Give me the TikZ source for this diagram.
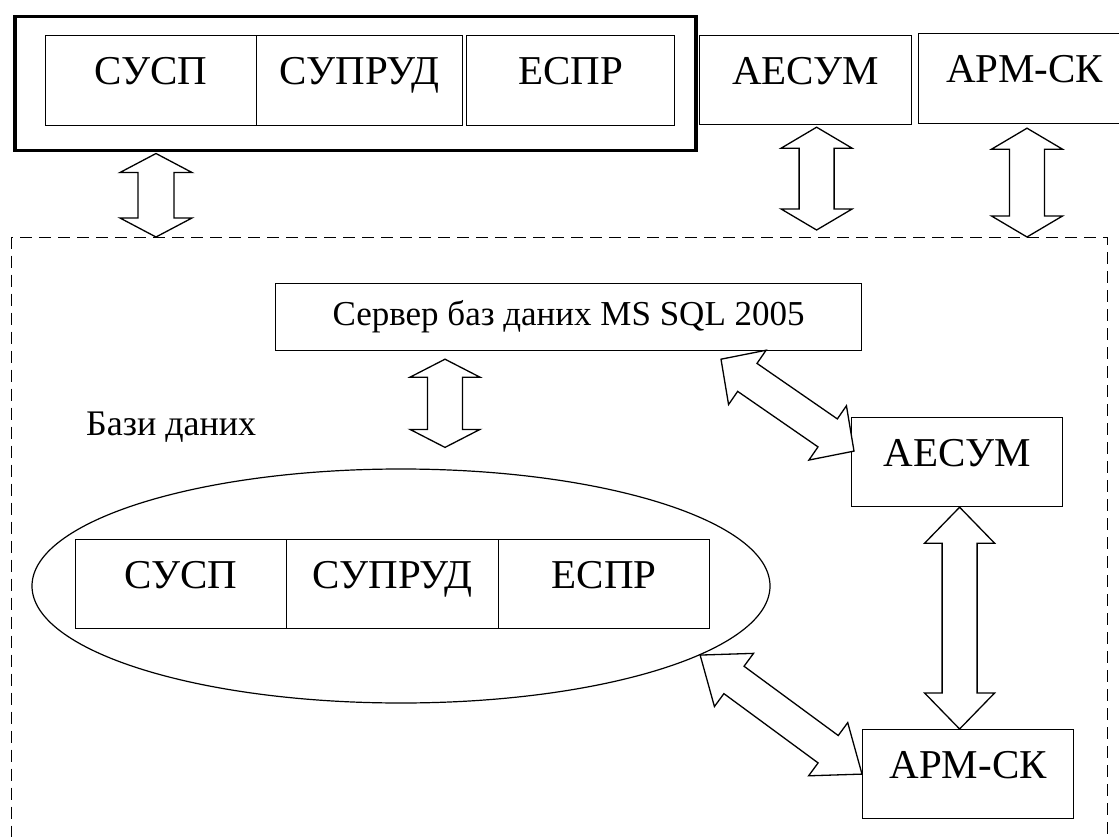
\documentclass[tikz,border=0pt]{standalone}
\usepackage{fontspec}
\setmainfont{Liberation Serif}
\usetikzlibrary{calc,shapes.geometric}
\tikzset{
  cell/.style={draw, line width=1.2pt, inner sep=0pt, anchor=north west,
    font=\fontsize{41}{41}\selectfont, text height=28pt, text depth=20pt},
  srv/.style={draw, line width=1.2pt, inner sep=0pt, anchor=north west,
    font=\fontsize{35}{35}\selectfont, text height=23pt, text depth=6pt},
  thickframe/.style={draw, line width=3.5pt, inner sep=0pt, anchor=north west},
  zone/.style={draw, dash pattern=on 12pt off 7pt, line width=1.2pt, inner sep=0pt, anchor=north west},
  dbshape/.style={draw, ellipse, line width=1.2pt, inner sep=0pt},
  arr/.style={draw, line width=1.3pt, fill=white, line join=miter},
}
\newcommand\dblarrow[5]{%
  \coordinate (hA) at ($(#1)!#3!(#2)$);
  \coordinate (hB) at ($(#2)!#3!(#1)$);
  \draw[arr] (#1) -- ($(hA)!#4!90:(#2)$) -- ($(hA)!#5!90:(#2)$)
    -- ($(hB)!#5!-90:(#1)$) -- ($(hB)!#4!-90:(#1)$) -- (#2)
    -- ($(hB)!#4!90:(#1)$) -- ($(hB)!#5!90:(#1)$)
    -- ($(hA)!#5!-90:(#2)$) -- ($(hA)!#4!-90:(#2)$) -- cycle;}
\begin{document}
\begin{tikzpicture}[x=1pt,y=-1pt]
\useasboundingbox (0,0) rectangle (1119,837);
% dashed zone
\node[zone, minimum width=1096pt, minimum height=640pt] (area) at (11,237) {};
% top group
\node[thickframe, minimum width=681pt, minimum height=134pt] (outer) at (13,15) {};
\node[cell, minimum width=211pt, minimum height=90pt] (t1) at (45,35) {СУСП};
\node[cell, minimum width=206pt, minimum height=90pt] (t2) at (256,35) {СУПРУД};
\node[cell, minimum width=208pt, minimum height=90pt] (t3) at (466,35) {ЕСПР};
\node[cell, minimum width=212pt, minimum height=89pt] (aesum1) at (699,35) {АЕСУМ};
\node[cell, minimum width=212pt, minimum height=90pt] (apm1) at (918,33) {АРМ-СК};
% server
\node[srv, minimum width=586pt, minimum height=67pt] (server) at (275,283) {Сервер баз даних MS SQL 2005};
% database
\node[anchor=base west, inner sep=0pt, font=\fontsize{36}{36}\selectfont] (dblabel) at (86,435) {Бази даних};
\node[dbshape, minimum width=738pt, minimum height=234pt] (db) at (401,586) {};
\node[cell, minimum width=211pt, minimum height=89pt] (b1) at (75,539) {СУСП};
\node[cell, minimum width=212pt, minimum height=89pt] (b2) at (286,539) {СУПРУД};
\node[cell, minimum width=211pt, minimum height=89pt] (b3) at (498,539) {ЕСПР};
% right side
\node[cell, minimum width=211pt, minimum height=89pt] (aesum2) at (851,417) {АЕСУМ};
\node[cell, minimum width=211pt, minimum height=89pt] (apm2) at (862,729) {АРМ-СК};
% arrow end points
\coordinate (a1s) at ($(outer.south west)+(143,1)$);
\coordinate (a1e) at (a1s |- area.north);
\coordinate (a2s) at ($(aesum1.south)+(11,2)$);
\coordinate (a2e) at ($(a2s |- area.north)+(0,-7)$);
\coordinate (a3s) at ($(apm1.south west)+(109,4)$);
\coordinate (a3e) at (a3s |- area.north);
\coordinate (a4s) at ($(server.south west)+(170,8)$);
\coordinate (a4e) at ($(db.north)+(44,-21)$);
\coordinate (a5s) at ($(aesum2.south)+(2.5,0)$);
\coordinate (a5e) at (a5s |- apm2.north);
\coordinate (d1s) at ($(server.south west)+(446,8)$);
\coordinate (d1e) at ($(aesum2.west)+(3,-11)$);
\coordinate (d2s) at (db.-13);
\coordinate (d2e) at (apm2.west);
% arrows
\dblarrow{a1s}{a1e}{19pt}{36pt}{18pt}
\dblarrow{a2s}{a2e}{21pt}{35.5pt}{17.5pt}
\dblarrow{a3s}{a3e}{21pt}{35.5pt}{17.5pt}
\dblarrow{a4s}{a4e}{18pt}{35pt}{17.5pt}
\dblarrow{a5s}{a5e}{36pt}{35pt}{17.5pt}
\dblarrow{d1s}{d1e}{32pt}{33pt}{17pt}
\dblarrow{d2s}{d2e}{42pt}{33pt}{17pt}
\end{tikzpicture}
\end{document}
